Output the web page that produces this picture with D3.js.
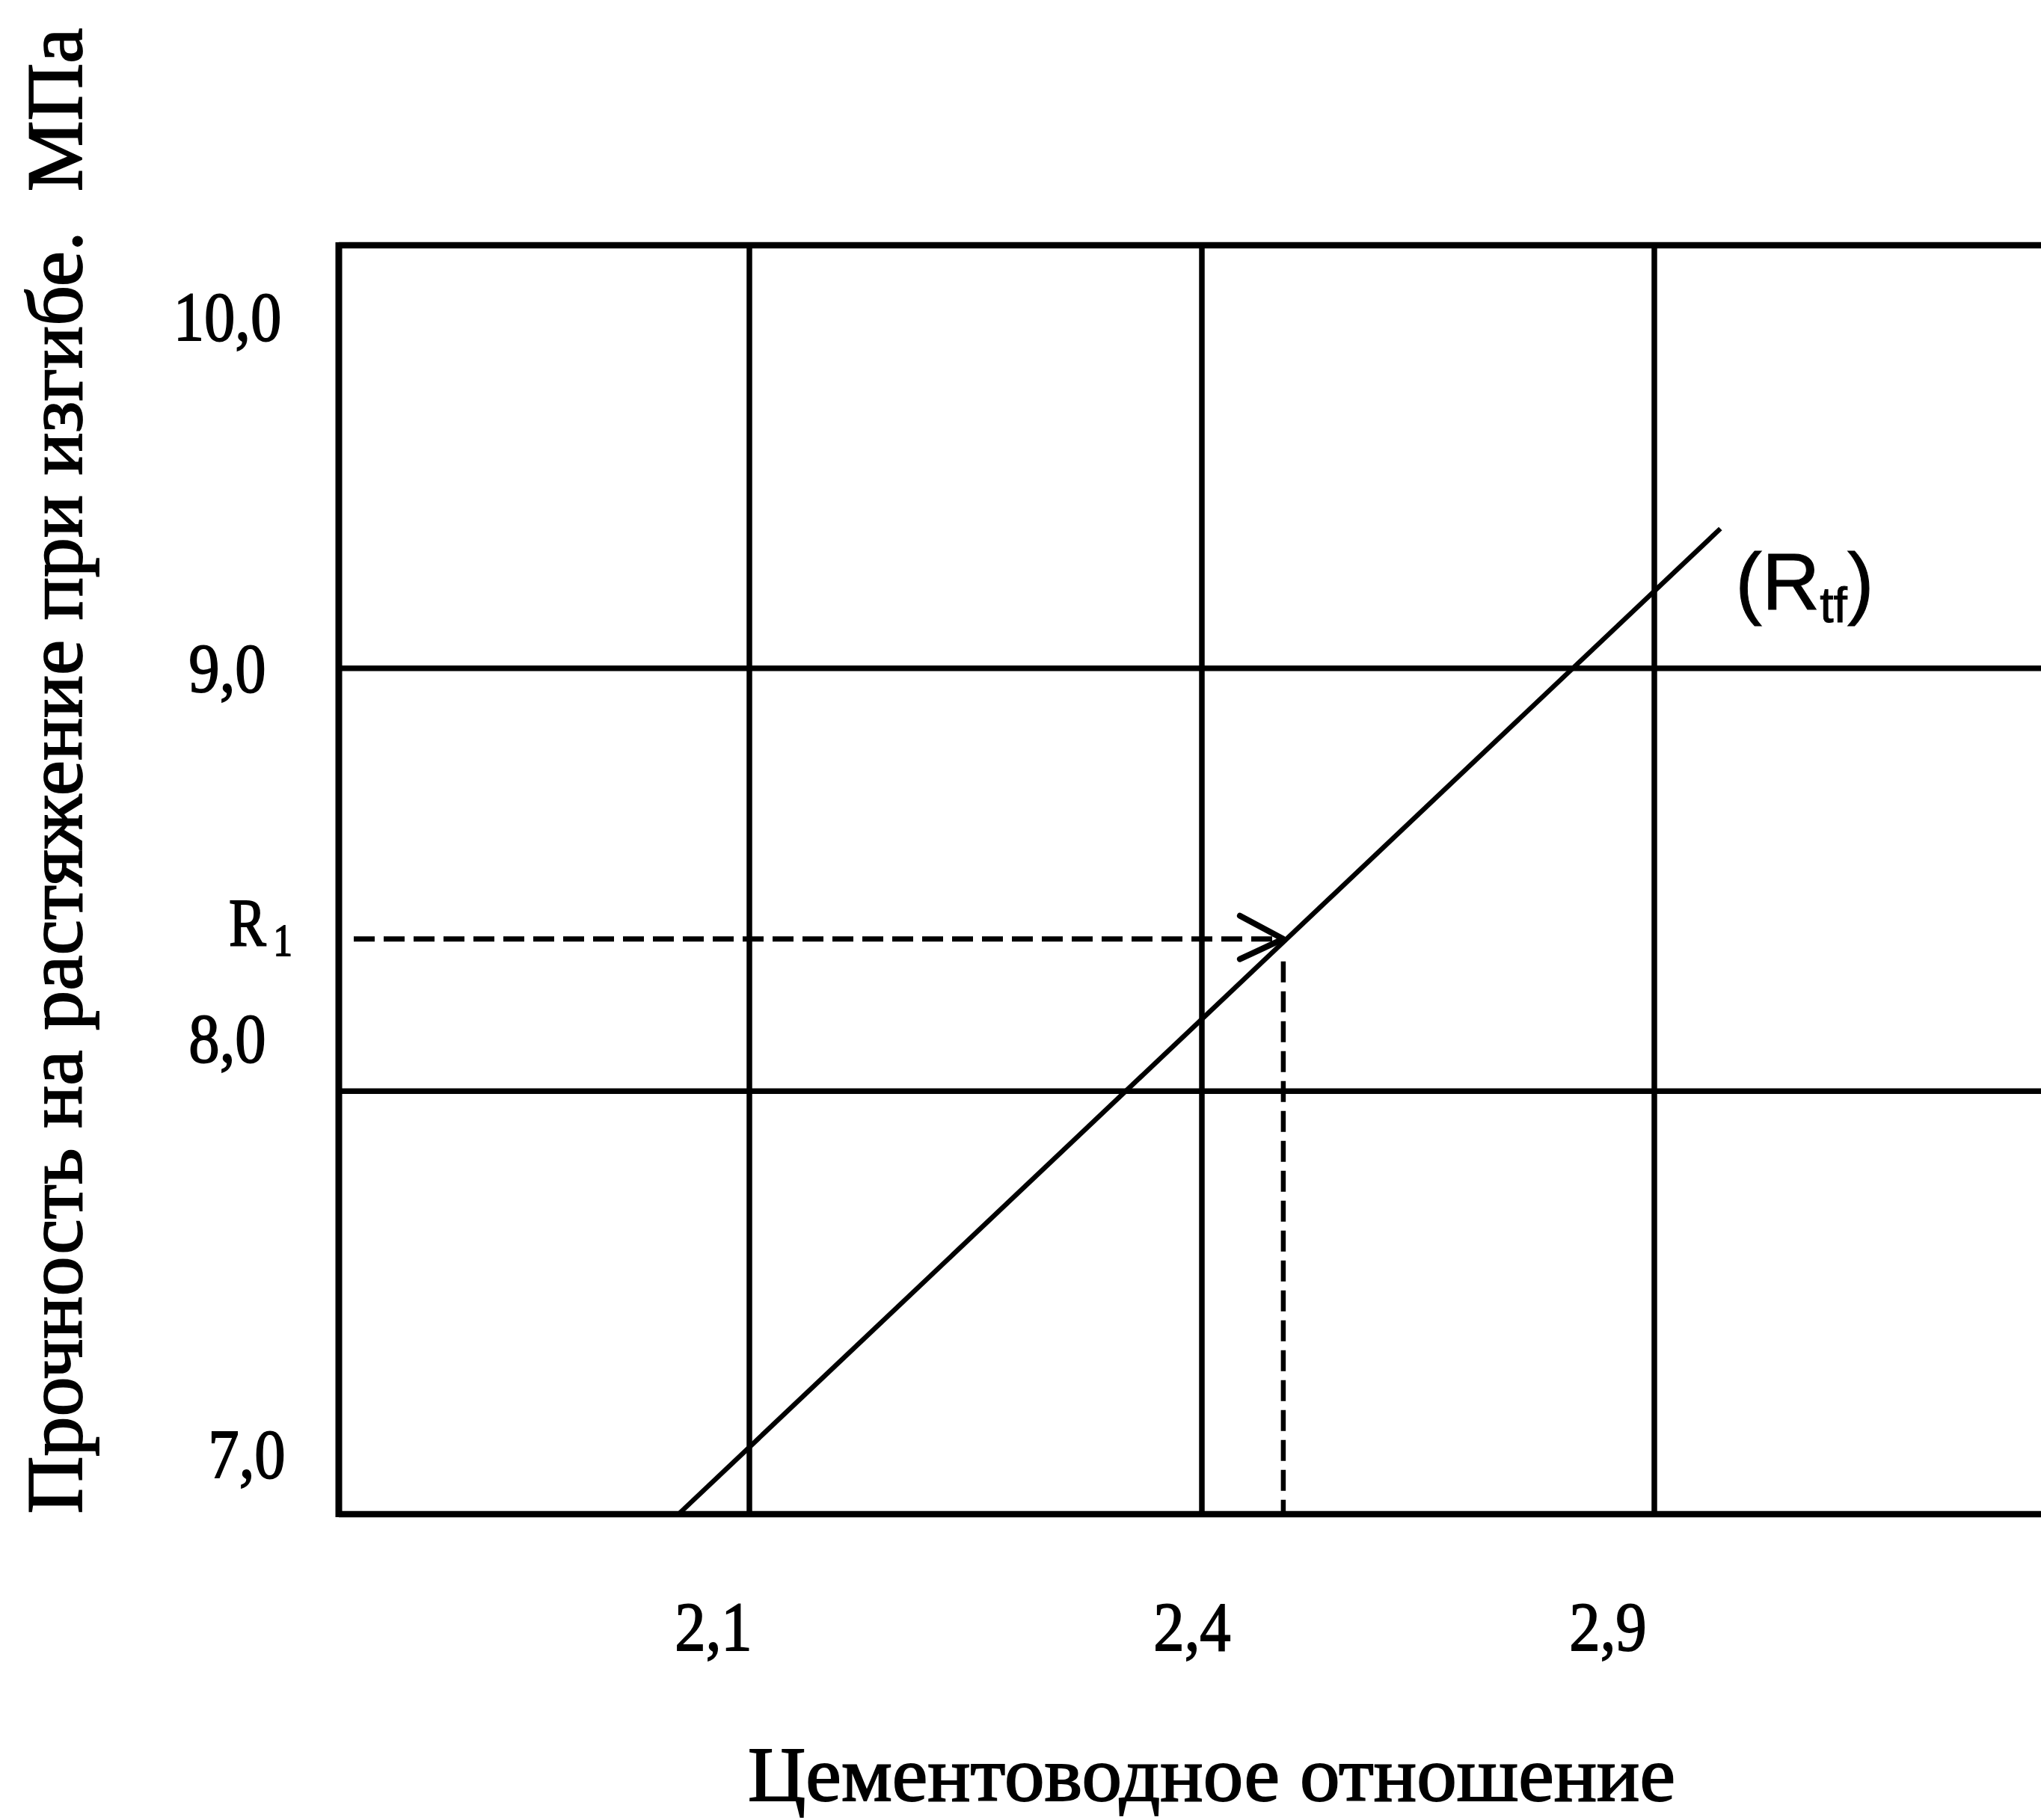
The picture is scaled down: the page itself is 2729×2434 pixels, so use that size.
<!DOCTYPE html>
<html>
<head>
<meta charset="utf-8">
<script src="https://cdn.jsdelivr.net/npm/d3@7"></script>
<style>
  html, body { margin: 0; padding: 0; background: #ffffff; }
  svg { display: block; }
  text { white-space: pre; }
</style>
</head>
<body>
<svg id="chart"></svg>
<script>
// ---------------- data ----------------
const xTickValues = [2.1, 2.4, 2.9];
const xTickLabels = ["2,1", "2,4", "2,9"];
const yTickValues = [7, 8, 9, 10];
const yTickLabels = ["7,0", "8,0", "9,0", "10,0"];
// (R_tf) straight line: cement-water ratio vs flexural tensile strength, MPa
const rtfX = [2.053, 2.973];
const rtfY = [7.0, 9.33];
// read-off point R1 on the line
const readX = [2.49];
const readY = [8.36];
const yTitle = "Прочность на растяжение при изгибе.  МПа";
const xTitle = "Цементоводное отношение";
const lineLabelMain = "R", lineLabelSub = "tf";
const readLabelMain = "R", readLabelSub = "1";

// ---------------- layout ----------------
const W = 2729, H = 2434;
const plot = { left: 453, top: 328, bottom: 2025, right: 2760 };
const gridStart = 1002, gridStep = 605;
const serif = "'Liberation Serif', 'Times New Roman', 'DejaVu Serif', serif";
const sans = "'Liberation Sans', Arial, 'DejaVu Sans', sans-serif";
const tickFont = 94, tickSqueeze = 0.88;
// label nudges relative to their tick (layout only)
const yLabelX = 304;
const yLabelDx = [26, 0, 0, 0];
const yLabelDy = [-49, -39, 31, 127];
const xLabelDx = [-48, -13, -62];
const xLabelY = 2207;
const inkStroke = 1.8; // slight thickening to match the printed/scanned glyphs

const svg = d3.select("#chart").attr("width", W).attr("height", H)
  .attr("viewBox", `0 0 ${W} ${H}`);
svg.append("rect").attr("width", W).attr("height", H).attr("fill", "#fff");

const x = d3.scaleLinear()
  .domain(xTickValues)
  .range(xTickValues.map((d, i) => gridStart + i * gridStep));
const y = d3.scaleLinear()
  .domain([d3.min(yTickValues), d3.max(yTickValues)])
  .range([plot.bottom, plot.top]);

// arrow marker (open chevron)
const defs = svg.append("defs");
defs.append("marker")
  .attr("id", "arrow")
  .attr("markerUnits", "userSpaceOnUse")
  .attr("viewBox", "-70 -40 80 80")
  .attr("markerWidth", 80).attr("markerHeight", 80)
  .attr("refX", 0).attr("refY", 0)
  .attr("orient", "auto")
  .style("overflow", "visible")
  .append("path")
  .attr("d", "M-58,-31 L0,0 L-58,27")
  .attr("fill", "none").attr("stroke", "#000")
  .attr("stroke-width", 8).attr("stroke-linecap", "round")
  .attr("stroke-linejoin", "round");

const g = svg.append("g");

// horizontal grid lines (7 and 10 are the frame bottom/top)
g.selectAll("line.hgrid").data(yTickValues).join("line")
  .attr("class", "hgrid")
  .attr("x1", plot.left).attr("x2", plot.right)
  .attr("y1", d => y(d)).attr("y2", d => y(d))
  .attr("stroke", "#000")
  .attr("stroke-width", d => (d === 7 || d === 10) ? 8.5 : 7.5);

// left frame
g.append("line")
  .attr("x1", plot.left).attr("x2", plot.left)
  .attr("y1", plot.top - 4).attr("y2", plot.bottom + 4)
  .attr("stroke", "#000").attr("stroke-width", 9);

// vertical grid lines
g.selectAll("line.vgrid").data(xTickValues).join("line")
  .attr("class", "vgrid")
  .attr("x1", d => x(d)).attr("x2", d => x(d))
  .attr("y1", plot.top).attr("y2", plot.bottom)
  .attr("stroke", "#000").attr("stroke-width", 7.5);

// dashed read-off lines
const px = x(readX[0]), py = y(readY[0]);
g.append("line")
  .attr("x1", plot.left + 20).attr("x2", px)
  .attr("y1", py).attr("y2", py)
  .attr("stroke", "#000").attr("stroke-width", 7)
  .attr("stroke-dasharray", "28,12")
  .attr("marker-end", "url(#arrow)");
g.append("line")
  .attr("x1", px).attr("x2", px)
  .attr("y1", py + 30).attr("y2", plot.bottom)
  .attr("stroke", "#000").attr("stroke-width", 6.5)
  .attr("stroke-dasharray", "28,12");

// (R_tf) line
const lineData = rtfX.map((d, i) => [d, rtfY[i]]);
g.append("path")
  .datum(lineData)
  .attr("d", d3.line().x(d => x(d[0])).y(d => y(d[1])))
  .attr("fill", "none").attr("stroke", "#000").attr("stroke-width", 6.5);

// y tick labels
g.selectAll("text.ytick").data(yTickValues).join("text")
  .attr("class", "ytick")
  .attr("transform", (d, i) => `translate(${yLabelX + yLabelDx[i]},${y(d) + yLabelDy[i]}) scale(${tickSqueeze},1)`)
  .attr("text-anchor", "middle")
  .attr("font-family", serif).attr("font-size", tickFont)
  .attr("fill", "#000").attr("stroke", "#000").attr("stroke-width", inkStroke)
  .text((d, i) => yTickLabels[i]);

// x tick labels
g.selectAll("text.xtick").data(xTickValues).join("text")
  .attr("class", "xtick")
  .attr("transform", (d, i) => `translate(${x(d) + xLabelDx[i]},${xLabelY}) scale(${tickSqueeze},1)`)
  .attr("text-anchor", "middle")
  .attr("font-family", serif).attr("font-size", tickFont)
  .attr("fill", "#000").attr("stroke", "#000").attr("stroke-width", inkStroke)
  .text((d, i) => xTickLabels[i]);

// R1 label
const r1 = g.append("text")
  .attr("transform", `translate(306,${py + 9}) scale(0.82,1)`)
  .attr("font-family", serif).attr("font-size", 91)
  .attr("fill", "#000").attr("stroke", "#000").attr("stroke-width", inkStroke);
r1.append("tspan").text(readLabelMain);
r1.append("tspan").attr("dx", 12).attr("dy", 13).attr("font-size", 62).text(readLabelSub);

// (R_tf) label
const ex = x(rtfX[1]), ey = y(rtfY[1]);
const lt = g.append("text")
  .attr("transform", `translate(${ex + 20},${ey + 108})`)
  .attr("font-family", sans).attr("font-size", 107)
  .attr("fill", "#000").attr("stroke", "#000").attr("stroke-width", 1);
lt.append("tspan").text("(" + lineLabelMain);
lt.append("tspan").attr("dy", 17).attr("font-size", 66).text(lineLabelSub);
lt.append("tspan").attr("dy", -17).text(")");

// axis titles
g.append("text")
  .attr("transform", `translate(109,1031) rotate(-90)`)
  .attr("text-anchor", "middle")
  .attr("font-family", serif).attr("font-size", 105)
  .attr("textLength", 1987).attr("lengthAdjust", "spacingAndGlyphs")
  .attr("fill", "#000").attr("stroke", "#000").attr("stroke-width", inkStroke)
  .text(yTitle);

g.append("text")
  .attr("x", 1620).attr("y", 2408)
  .attr("text-anchor", "middle")
  .attr("font-family", serif).attr("font-size", 103)
  .attr("textLength", 1240).attr("lengthAdjust", "spacingAndGlyphs")
  .attr("fill", "#000").attr("stroke", "#000").attr("stroke-width", inkStroke)
  .attr("paint-order", "stroke")
  .text(xTitle);
</script>
</body>
</html>
